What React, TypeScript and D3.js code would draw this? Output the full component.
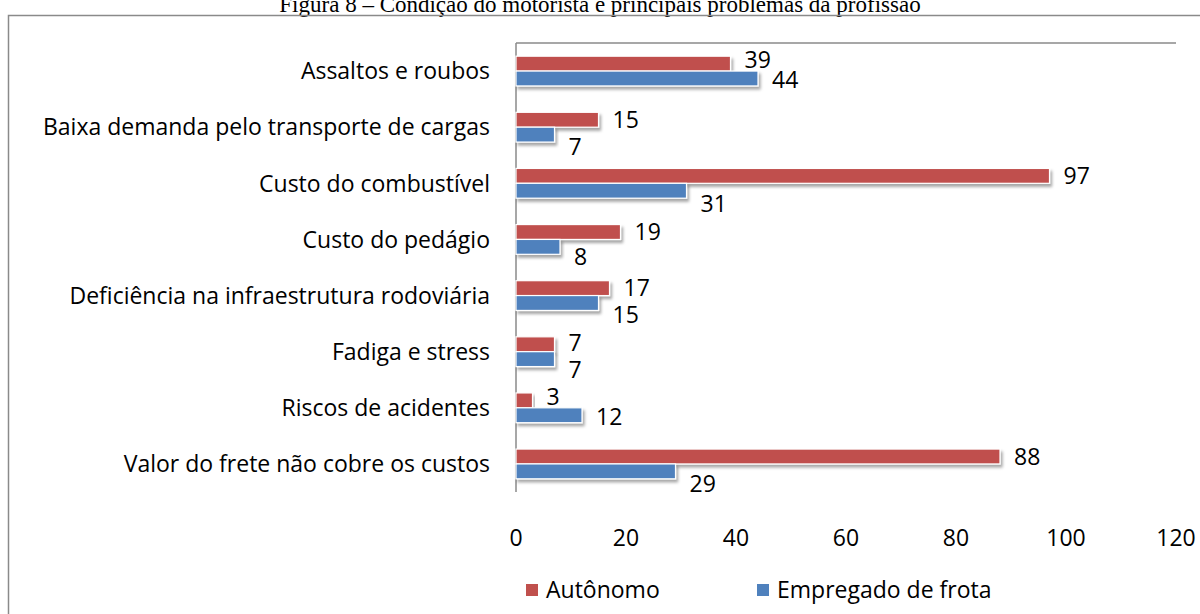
import React from "react";
import * as d3 from "d3";

// categories top to bottom
const categories = [
  "Assaltos e roubos",
  "Baixa demanda pelo transporte de cargas",
  "Custo do combustível",
  "Custo do pedágio",
  "Deficiência na infraestrutura rodoviária",
  "Fadiga e stress",
  "Riscos de acidentes",
  "Valor do frete não cobre os custos",
];
const autonomo = [39, 15, 97, 19, 17, 7, 3, 88];
const empregado = [44, 7, 31, 8, 15, 7, 12, 29];
const xTicks = [0, 20, 40, 60, 80, 100, 120];
const seriesNames = ["Autônomo", "Empregado de frota"];
const title = "Figura 8 – Condição do motorista e principais problemas da profissão";

// small vertical nudges of the value labels (as placed in the source chart)
const redNudge = [-4, 0, 0, 0, 0, -2, -4, 0];
const blueNudge = [1, 12, 13, 10, 12, 11, 1, 12];

const RED = "#C0504D";
const BLUE = "#4F81BD";
const FONT = "'Open Sans', sans-serif";
const FS = 23;

export default function App() {
  const width = 1200;
  const height = 614;
  const plot = { left: 516, right: 1176, top: 43, bottom: 492 };

  const x = d3.scaleLinear().domain([0, 120]).range([plot.left, plot.right]);
  const y = d3
    .scaleBand<string>()
    .domain(categories)
    .range([plot.top, plot.bottom])
    .paddingInner(0.47)
    .paddingOuter(0.235);
  const inner = d3
    .scaleBand<string>()
    .domain(seriesNames)
    .range([0, y.bandwidth()]);

  const series = [
    { name: seriesNames[0], values: autonomo, color: RED, nudge: redNudge },
    { name: seriesNames[1], values: empregado, color: BLUE, nudge: blueNudge },
  ];

  return (
    <svg
      width={width}
      height={height}
      style={{ position: "absolute", left: 0, top: 0, background: "#fff" }}
    >
      <defs>
        <filter id="shadow" x="-5%" y="-50%" width="115%" height="250%">
          <feDropShadow dx="2" dy="3" stdDeviation="1.6" floodColor="#000" floodOpacity="0.35" />
        </filter>
      </defs>

      {/* title, cut by the top edge like in the source */}
      <text
        x={600}
        y={12}
        textAnchor="middle"
        fontFamily="'Liberation Serif', 'Times New Roman', serif"
        fontSize={23}
        fill="#000"
      >
        {title}
      </text>

      {/* chart frame */}
      <rect x={8.5} y={15.5} width={1300} height={700} fill="none" stroke="#8a8a8a" strokeWidth={1.5} />

      {/* plot area: top border + vertical axis */}
      <line x1={plot.left} x2={plot.right} y1={plot.top} y2={plot.top} stroke="#8a8a8a" strokeWidth={1.5} />
      <line x1={plot.left} x2={plot.left} y1={plot.top} y2={plot.bottom} stroke="#8a8a8a" strokeWidth={1.5} />

      {/* bars */}
      {series.map((s) => (
        <g key={s.name}>
          {categories.map((c, i) => (
            <rect
              key={c}
              x={x(0)}
              y={(y(c) as number) + (inner(s.name) as number)}
              width={x(s.values[i]) - x(0)}
              height={inner.bandwidth()}
              fill={s.color}
              stroke="#fff"
              strokeWidth={1.2}
              filter="url(#shadow)"
            />
          ))}
        </g>
      ))}

      {/* value labels */}
      {series.map((s) => (
        <g key={s.name + "-lbl"}>
          {categories.map((c, i) => (
            <text
              key={c}
              x={x(s.values[i]) + 14}
              y={(y(c) as number) + (inner(s.name) as number) + inner.bandwidth() / 2 + s.nudge[i]}
              dy="0.36em"
              fontFamily={FONT}
              fontSize={FS}
              fill="#000"
            >
              {s.values[i]}
            </text>
          ))}
        </g>
      ))}

      {/* category labels */}
      {categories.map((c) => (
        <text
          key={c}
          x={plot.left - 26}
          y={(y(c) as number) + y.bandwidth() / 2}
          dy="0.36em"
          textAnchor="end"
          fontFamily={FONT}
          fontSize={FS}
          fill="#000"
        >
          {c}
        </text>
      ))}

      {/* x tick labels */}
      {xTicks.map((t) => (
        <text
          key={t}
          x={x(t)}
          y={538}
          dy="0.36em"
          textAnchor="middle"
          fontFamily={FONT}
          fontSize={FS}
          fill="#000"
        >
          {t}
        </text>
      ))}

      {/* legend */}
      {series.map((s, i) => {
        const lx = i === 0 ? 526 : 757;
        return (
          <g key={s.name + "-leg"} transform={`translate(${lx},590)`}>
            <rect x={0} y={-6} width={12} height={12} fill={s.color} />
            <text x={20} y={0} dy="0.36em" fontFamily={FONT} fontSize={FS} fill="#000">
              {s.name}
            </text>
          </g>
        );
      })}
    </svg>
  );
}
